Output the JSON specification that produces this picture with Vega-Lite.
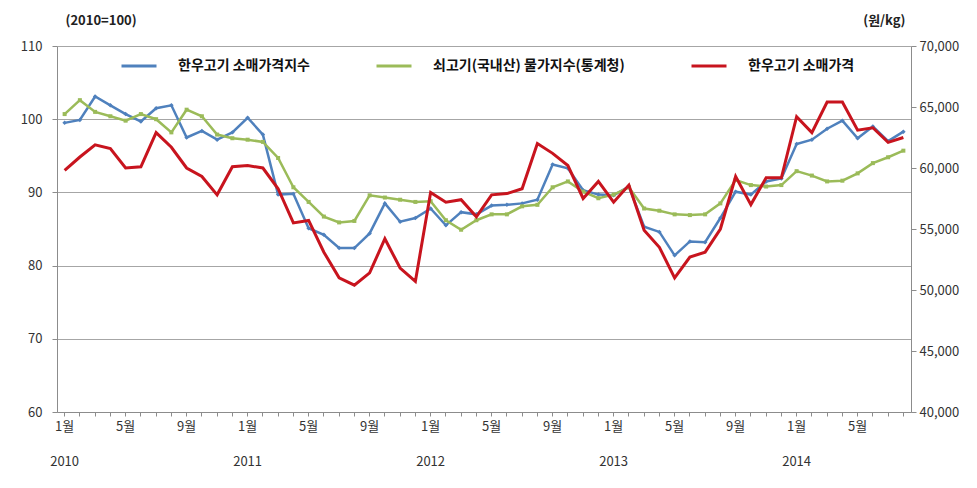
{
  "$schema": "https://vega.github.io/schema/vega-lite/v6.json",
  "width": 854,
  "height": 366,
  "autosize": {"type": "none"},
  "padding": {"left": 57, "top": 46, "right": 66, "bottom": 76},
  "background": "white",
  "config": {
    "view": {"stroke": null},
    "font": "Noto Sans CJK KR",
    "axis": {"labelColor": "#333333", "titleColor": "#222222", "domainColor": "#8C8C8C", "tickColor": "#8C8C8C"}
  },
  "data": {
    "values": [
      {"month": "2010-01", "hanwoo_index": 99.5, "beef_cpi": 100.7, "hanwoo_price": 59800},
      {"month": "2010-02", "hanwoo_index": 99.9, "beef_cpi": 102.6, "hanwoo_price": 60900},
      {"month": "2010-03", "hanwoo_index": 103.1, "beef_cpi": 101.0, "hanwoo_price": 61900},
      {"month": "2010-04", "hanwoo_index": 101.9, "beef_cpi": 100.4, "hanwoo_price": 61600},
      {"month": "2010-05", "hanwoo_index": 100.7, "beef_cpi": 99.8, "hanwoo_price": 60000},
      {"month": "2010-06", "hanwoo_index": 99.7, "beef_cpi": 100.7, "hanwoo_price": 60100},
      {"month": "2010-07", "hanwoo_index": 101.5, "beef_cpi": 100.0, "hanwoo_price": 62900},
      {"month": "2010-08", "hanwoo_index": 101.9, "beef_cpi": 98.2, "hanwoo_price": 61700},
      {"month": "2010-09", "hanwoo_index": 97.5, "beef_cpi": 101.3, "hanwoo_price": 60000},
      {"month": "2010-10", "hanwoo_index": 98.4, "beef_cpi": 100.4, "hanwoo_price": 59300},
      {"month": "2010-11", "hanwoo_index": 97.2, "beef_cpi": 97.9, "hanwoo_price": 57800},
      {"month": "2010-12", "hanwoo_index": 98.2, "beef_cpi": 97.4, "hanwoo_price": 60100},
      {"month": "2011-01", "hanwoo_index": 100.2, "beef_cpi": 97.2, "hanwoo_price": 60200},
      {"month": "2011-02", "hanwoo_index": 97.9, "beef_cpi": 96.9, "hanwoo_price": 60000},
      {"month": "2011-03", "hanwoo_index": 89.7, "beef_cpi": 94.7, "hanwoo_price": 58300},
      {"month": "2011-04", "hanwoo_index": 89.8, "beef_cpi": 90.7, "hanwoo_price": 55500},
      {"month": "2011-05", "hanwoo_index": 85.1, "beef_cpi": 88.7, "hanwoo_price": 55700},
      {"month": "2011-06", "hanwoo_index": 84.2, "beef_cpi": 86.7, "hanwoo_price": 53100},
      {"month": "2011-07", "hanwoo_index": 82.4, "beef_cpi": 85.9, "hanwoo_price": 51000},
      {"month": "2011-08", "hanwoo_index": 82.4, "beef_cpi": 86.1, "hanwoo_price": 50400},
      {"month": "2011-09", "hanwoo_index": 84.4, "beef_cpi": 89.6, "hanwoo_price": 51400},
      {"month": "2011-10", "hanwoo_index": 88.5, "beef_cpi": 89.3, "hanwoo_price": 54200},
      {"month": "2011-11", "hanwoo_index": 86.0, "beef_cpi": 89.0, "hanwoo_price": 51800},
      {"month": "2011-12", "hanwoo_index": 86.5, "beef_cpi": 88.7, "hanwoo_price": 50700},
      {"month": "2012-01", "hanwoo_index": 87.8, "beef_cpi": 88.8, "hanwoo_price": 58000},
      {"month": "2012-02", "hanwoo_index": 85.5, "beef_cpi": 86.2, "hanwoo_price": 57200},
      {"month": "2012-03", "hanwoo_index": 87.3, "beef_cpi": 84.9, "hanwoo_price": 57400},
      {"month": "2012-04", "hanwoo_index": 87.0, "beef_cpi": 86.2, "hanwoo_price": 56000},
      {"month": "2012-05", "hanwoo_index": 88.2, "beef_cpi": 87.0, "hanwoo_price": 57800},
      {"month": "2012-06", "hanwoo_index": 88.3, "beef_cpi": 87.0, "hanwoo_price": 57900},
      {"month": "2012-07", "hanwoo_index": 88.5, "beef_cpi": 88.1, "hanwoo_price": 58300},
      {"month": "2012-08", "hanwoo_index": 89.0, "beef_cpi": 88.3, "hanwoo_price": 62000},
      {"month": "2012-09", "hanwoo_index": 93.8, "beef_cpi": 90.7, "hanwoo_price": 61200},
      {"month": "2012-10", "hanwoo_index": 93.3, "beef_cpi": 91.5, "hanwoo_price": 60200},
      {"month": "2012-11", "hanwoo_index": 90.3, "beef_cpi": 90.1, "hanwoo_price": 57500},
      {"month": "2012-12", "hanwoo_index": 89.7, "beef_cpi": 89.2, "hanwoo_price": 58900},
      {"month": "2013-01", "hanwoo_index": 89.6, "beef_cpi": 89.7, "hanwoo_price": 57200},
      {"month": "2013-02", "hanwoo_index": 90.8, "beef_cpi": 90.7, "hanwoo_price": 58600},
      {"month": "2013-03", "hanwoo_index": 85.3, "beef_cpi": 87.8, "hanwoo_price": 54900},
      {"month": "2013-04", "hanwoo_index": 84.6, "beef_cpi": 87.5, "hanwoo_price": 53500},
      {"month": "2013-05", "hanwoo_index": 81.4, "beef_cpi": 87.0, "hanwoo_price": 51000},
      {"month": "2013-06", "hanwoo_index": 83.3, "beef_cpi": 86.9, "hanwoo_price": 52700},
      {"month": "2013-07", "hanwoo_index": 83.2, "beef_cpi": 87.0, "hanwoo_price": 53100},
      {"month": "2013-08", "hanwoo_index": 86.5, "beef_cpi": 88.5, "hanwoo_price": 55000},
      {"month": "2013-09", "hanwoo_index": 90.1, "beef_cpi": 91.7, "hanwoo_price": 59300},
      {"month": "2013-10", "hanwoo_index": 89.7, "beef_cpi": 91.0, "hanwoo_price": 57000},
      {"month": "2013-11", "hanwoo_index": 91.5, "beef_cpi": 90.8, "hanwoo_price": 59200},
      {"month": "2013-12", "hanwoo_index": 91.9, "beef_cpi": 91.0, "hanwoo_price": 59200},
      {"month": "2014-01", "hanwoo_index": 96.6, "beef_cpi": 92.9, "hanwoo_price": 64200},
      {"month": "2014-02", "hanwoo_index": 97.2, "beef_cpi": 92.3, "hanwoo_price": 62900},
      {"month": "2014-03", "hanwoo_index": 98.7, "beef_cpi": 91.5, "hanwoo_price": 65400},
      {"month": "2014-04", "hanwoo_index": 99.8, "beef_cpi": 91.6, "hanwoo_price": 65400},
      {"month": "2014-05", "hanwoo_index": 97.4, "beef_cpi": 92.6, "hanwoo_price": 63100},
      {"month": "2014-06", "hanwoo_index": 99.0, "beef_cpi": 94.0, "hanwoo_price": 63300},
      {"month": "2014-07", "hanwoo_index": 97.0, "beef_cpi": 94.8, "hanwoo_price": 62100},
      {"month": "2014-08", "hanwoo_index": 98.3, "beef_cpi": 95.7, "hanwoo_price": 62500}
    ]
  },
  "encoding": {
    "x": {
      "field": "month",
      "type": "ordinal",
      "scale": {"type": "band", "paddingInner": 0, "paddingOuter": 0},
      "axis": {
        "title": null,
        "tickSize": 4,
        "labelAngle": 0,
        "labelFontSize": 13,
        "labelPadding": 4,
        "labelBaseline": "top",
        "labelLineHeight": 35,
        "labelExpr": "slice(datum.value,5)=='01' ? ['1월', slice(datum.value,0,4)] : slice(datum.value,5)=='05' ? '5월' : slice(datum.value,5)=='09' ? '9월' : ''"
      }
    }
  },
  "layer": [
    {
      "encoding": {
        "y": {
          "type": "quantitative",
          "scale": {"domain": [60, 110], "nice": false, "zero": false},
          "axis": {
            "orient": "left",
            "values": [60, 70, 80, 90, 100, 110],
            "grid": true,
            "gridColor": "#A6A6A6",
            "tickSize": 5,
            "labelPadding": 10,
            "labelFontSize": 13,
            "title": "(2010=100)",
            "titleAngle": 0,
            "titleAlign": "left",
            "titleBaseline": "middle",
            "titleX": 8,
            "titleY": -26,
            "titleFontSize": 13,
            "titleFontWeight": "bold"
          }
        }
      },
      "layer": [
        {
          "mark": {"type": "line", "strokeWidth": 2.5},
          "encoding": {
            "y": {"field": "hanwoo_index", "type": "quantitative"},
            "color": {
              "datum": "한우고기 소매가격지수",
              "type": "nominal",
              "scale": {"domain": ["한우고기 소매가격지수", "쇠고기(국내산) 물가지수(통계청)", "한우고기 소매가격"], "range": ["#4F81BD", "#9BBB59", "#C8141E"]},
              "legend": {
                "orient": "none",
                "legendX": 63,
                "legendY": 1,
                "direction": "horizontal",
                "title": null,
                "symbolType": "stroke",
                "symbolSize": 1225,
                "symbolStrokeWidth": 3,
                "labelOffset": 20,
                "columnPadding": 60,
                "labelFontSize": 14,
                "labelFontWeight": "bold",
                "labelColor": "#111111",
                "labelLimit": 400
              }
            }
          }
        },
        {
          "mark": {"type": "line", "strokeWidth": 2.5},
          "encoding": {
            "y": {"field": "beef_cpi", "type": "quantitative"},
            "color": {"datum": "쇠고기(국내산) 물가지수(통계청)", "type": "nominal"}
          }
        },
        {
          "mark": {"type": "point", "shape": "diamond", "filled": true, "size": 20, "opacity": 1},
          "encoding": {
            "y": {"field": "hanwoo_index", "type": "quantitative"},
            "color": {"datum": "한우고기 소매가격지수", "type": "nominal"}
          }
        },
        {
          "mark": {"type": "point", "shape": "square", "filled": true, "size": 16, "opacity": 1},
          "encoding": {
            "y": {"field": "beef_cpi", "type": "quantitative"},
            "color": {"datum": "쇠고기(국내산) 물가지수(통계청)", "type": "nominal"}
          }
        }
      ]
    },
    {
      "mark": {"type": "line", "strokeWidth": 3},
      "encoding": {
        "y": {
          "field": "hanwoo_price",
          "type": "quantitative",
          "scale": {"domain": [40000, 70000], "nice": false, "zero": false},
          "axis": {
            "orient": "right",
            "values": [40000, 45000, 50000, 55000, 60000, 65000, 70000],
            "labelExpr": "floor(datum.value/1000) + ',000'",
            "grid": false,
            "tickSize": 5,
            "labelPadding": 3,
            "labelFontSize": 13,
            "title": "(원/kg)",
            "titleAngle": 0,
            "titleAlign": "right",
            "titleBaseline": "middle",
            "titleX": -6,
            "titleY": -26,
            "titleFontSize": 13,
            "titleFontWeight": "bold"
          }
        },
        "color": {"datum": "한우고기 소매가격", "type": "nominal"}
      }
    }
  ],
  "resolve": {"scale": {"y": "independent"}}
}
